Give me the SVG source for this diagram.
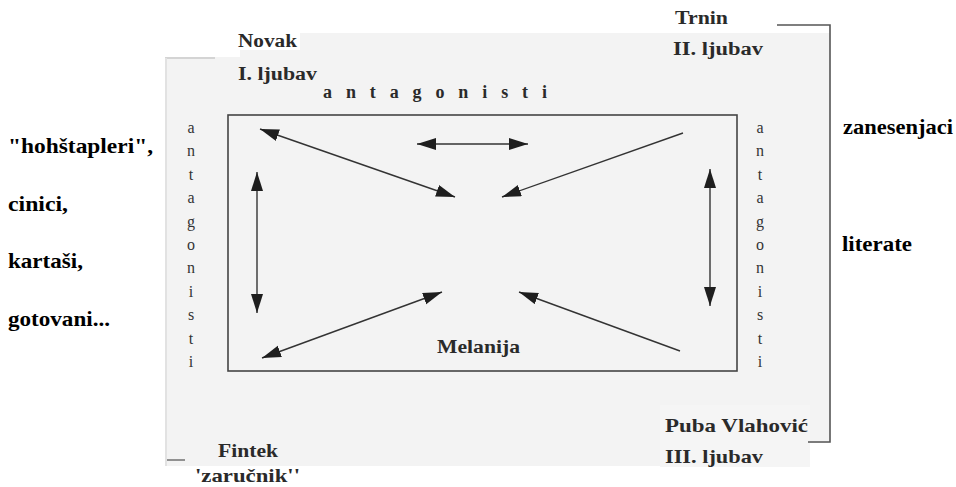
<svg xmlns="http://www.w3.org/2000/svg" width="956" height="487" viewBox="0 0 956 487">
<style>
.lbl{font-family:"Liberation Serif","DejaVu Serif",serif;font-weight:bold;fill:#2a2a2a}
.side{font-family:"Liberation Serif","DejaVu Serif",serif;font-weight:bold;fill:#000;font-size:21px}
.col{font-family:"Liberation Serif","DejaVu Serif",serif;fill:#333;font-size:16px;text-anchor:middle}
.arr{stroke:#333;stroke-width:1.4;fill:none}
.frame{stroke:#555;stroke-width:1.6;fill:none}
</style>
<defs>
<marker id="ah" markerUnits="userSpaceOnUse" markerWidth="22" markerHeight="13" refX="19" refY="6" orient="auto-start-reverse">
<path d="M0,0 L19,6 L0,12 z" fill="#1e1e1e"/>
</marker>
</defs>
<rect width="956" height="487" fill="#fff"/>
<g id="scan-background">
<rect x="165" y="33" width="665" height="433" fill="#f3f3f3"/>
<rect x="808" y="443" width="25" height="24" fill="#fff"/>
<rect x="165" y="30" width="75" height="27" fill="#fff"/>
<rect x="236" y="30" width="64" height="20" fill="#fff"/>
<rect x="660" y="405" width="150" height="62" fill="#f5f5f5"/>
</g>
<g id="frame">
<path class="frame" d="M777,25 H830 V442 H808"/>
<path d="M165,58 H215" stroke="#b5b5b5" stroke-width="1.2"/>
<path d="M165,460 H185" stroke="#666" stroke-width="1.4"/>
<line x1="166" y1="58" x2="166" y2="466" stroke="#e2e2e2" stroke-width="2"/>
</g>
<g id="melanija-box">
<rect x="228" y="115" width="509" height="256" fill="none" stroke="#444" stroke-width="1.6"/>
<text class="lbl" x="437" y="353" font-size="19" textLength="83" lengthAdjust="spacingAndGlyphs">Melanija</text>
</g>
<g id="novak">
<text class="lbl" x="238" y="47" font-size="18" textLength="59" lengthAdjust="spacingAndGlyphs">Novak</text>
<text class="lbl" x="238" y="80" font-size="18" textLength="79" lengthAdjust="spacingAndGlyphs">I. ljubav</text>
</g>
<g id="trnin">
<text class="lbl" x="675" y="24" font-size="18" textLength="53" lengthAdjust="spacingAndGlyphs">Trnin</text>
<text class="lbl" x="673" y="55" font-size="18" textLength="90" lengthAdjust="spacingAndGlyphs">II. ljubav</text>
</g>
<g id="puba">
<text class="lbl" x="665" y="432" font-size="19" textLength="143" lengthAdjust="spacingAndGlyphs">Puba Vlahović</text>
<text class="lbl" x="665" y="463" font-size="19" textLength="98" lengthAdjust="spacingAndGlyphs">III. ljubav</text>
</g>
<g id="fintek">
<text class="lbl" x="218" y="457" font-size="19" textLength="60" lengthAdjust="spacingAndGlyphs">Fintek</text>
<text class="lbl" x="195" y="482" font-size="19" textLength="105" lengthAdjust="spacingAndGlyphs">'zaručnik''</text>
</g>
<g id="antagonisti-top">
<text class="lbl" x="323" y="98" font-size="18" textLength="224" lengthAdjust="spacing">antagonisti</text>
</g>
<g id="antagonisti-left">
<text class="col" x="191" y="133">a</text>
<text class="col" x="191" y="156">n</text>
<text class="col" x="191" y="180">t</text>
<text class="col" x="191" y="203">a</text>
<text class="col" x="191" y="227">g</text>
<text class="col" x="191" y="250">o</text>
<text class="col" x="191" y="273">n</text>
<text class="col" x="191" y="297">i</text>
<text class="col" x="191" y="320">s</text>
<text class="col" x="191" y="344">t</text>
<text class="col" x="191" y="367">i</text>
</g>
<g id="antagonisti-right">
<text class="col" x="760" y="133">a</text>
<text class="col" x="760" y="156">n</text>
<text class="col" x="760" y="180">t</text>
<text class="col" x="760" y="203">a</text>
<text class="col" x="760" y="227">g</text>
<text class="col" x="760" y="250">o</text>
<text class="col" x="760" y="273">n</text>
<text class="col" x="760" y="297">i</text>
<text class="col" x="760" y="320">s</text>
<text class="col" x="760" y="344">t</text>
<text class="col" x="760" y="367">i</text>
</g>
<g id="left-labels">
<text class="side" x="8" y="153" textLength="145" lengthAdjust="spacingAndGlyphs">"hohštapleri",</text>
<text class="side" x="8" y="211" textLength="60" lengthAdjust="spacingAndGlyphs">cinici,</text>
<text class="side" x="8" y="268" textLength="75" lengthAdjust="spacingAndGlyphs">kartaši,</text>
<text class="side" x="8" y="326" textLength="102" lengthAdjust="spacingAndGlyphs">gotovani...</text>
</g>
<g id="right-labels">
<text class="side" x="843" y="134" textLength="110" lengthAdjust="spacingAndGlyphs">zanesenjaci</text>
<text class="side" x="842" y="251" textLength="70" lengthAdjust="spacingAndGlyphs">literate</text>
</g>
<g id="connectors">
<line class="arr" x1="260" y1="129" x2="455" y2="197" marker-start="url(#ah)" marker-end="url(#ah)"/>
<line class="arr" x1="417" y1="144" x2="528" y2="144" marker-start="url(#ah)" marker-end="url(#ah)"/>
<line class="arr" x1="683" y1="133" x2="502" y2="197" marker-end="url(#ah)"/>
<line class="arr" x1="257" y1="172" x2="257" y2="313" marker-start="url(#ah)" marker-end="url(#ah)"/>
<line class="arr" x1="710" y1="169" x2="710" y2="306" marker-start="url(#ah)" marker-end="url(#ah)"/>
<line class="arr" x1="442" y1="292" x2="262" y2="358" marker-start="url(#ah)" marker-end="url(#ah)"/>
<line class="arr" x1="680" y1="351" x2="519" y2="292" marker-end="url(#ah)"/>
</g>
</svg>
